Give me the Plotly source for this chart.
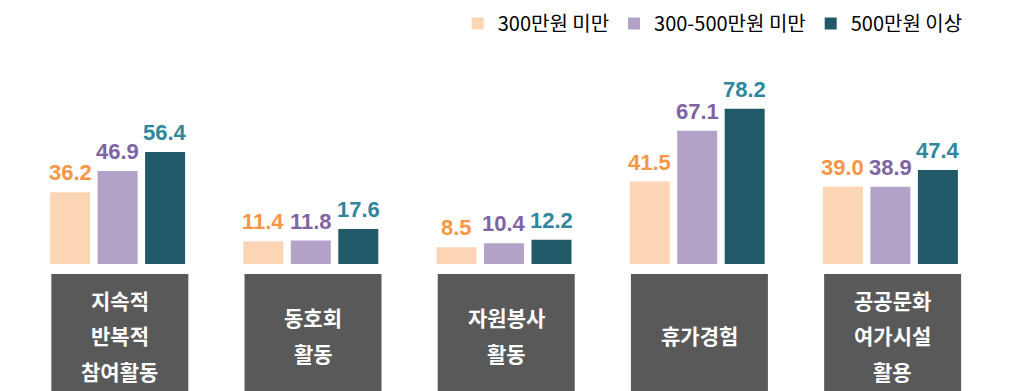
import plotly.graph_objects as go

categories = ["지속적 반복적 참여활동", "동호회 활동", "자원봉사 활동", "휴가경험", "공공문화 여가시설 활용"]
category_lines = [["지속적", "반복적", "참여활동"], ["동호회", "활동"], ["자원봉사", "활동"], ["휴가경험"], ["공공문화", "여가시설", "활용"]]
series_names = ["300만원 미만", "300-500만원 미만", "500만원 이상"]
values_low = [36.2, 11.4, 8.5, 41.5, 39.0]
values_mid = [46.9, 11.8, 10.4, 67.1, 38.9]
values_high = [56.4, 17.6, 12.2, 78.2, 47.4]

bar_colors = ["#FCD5B5", "#B3A2C7", "#215968"]
label_colors = ["#F79646", "#8064A2", "#31859C"]
box_color = "#595959"

W, H = 1010, 391
ML, MR = 21, 23
base_px = 264.0
px_per_unit = 1.985
y_top = base_px / px_per_unit
y_bot = -(H - base_px) / px_per_unit
cat_px = (W - ML - MR) / 5.0
bargap, bargroupgap = 0.2626, 0.158
bar_pitch_px = cat_px * (1 - bargap) / 3.0

def px_to_y(py):
    return (base_px - py) / px_per_unit

fig = go.Figure()
x_idx = list(range(len(categories)))
annotations = []
for s, (name, vals, bc, lc) in enumerate(zip(series_names, [values_low, values_mid, values_high], bar_colors, label_colors)):
    fig.add_trace(go.Bar(
        x=x_idx, y=vals, name=name,
        marker=dict(color=bc, line=dict(width=0)),
        cliponaxis=False,
        hoverinfo="skip",
    ))
    for i, v in zip(x_idx, vals):
        annotations.append(dict(x=i, y=v, xref="x", yref="y", text=f"{v:.1f}",
                                showarrow=False, xanchor="center", yanchor="bottom",
                                xshift=(s - 1) * bar_pitch_px, yshift=5,
                                font=dict(family="Liberation Sans, Arial", size=22, color=lc, weight="bold")))

shapes = []
for i, lines in enumerate(category_lines):
    shapes.append(dict(type="rect", xref="x", yref="y", x0=i - 0.343, x1=i + 0.366,
                       y0=px_to_y(274), y1=px_to_y(H + 20), fillcolor=box_color,
                       line=dict(width=0), layer="above"))
    n = len(lines)
    for k, t in enumerate(lines):
        py = 335 + (k - (n - 1) / 2) * 35.5
        annotations.append(dict(x=i + 0.012, y=px_to_y(py), xref="x", yref="y", text=t,
                                showarrow=False, xanchor="center", yanchor="middle",
                                font=dict(family="Noto Sans CJK KR", size=21, color="white", weight="bold")))

fig.update_layout(
    width=W, height=H,
    margin=dict(l=ML, r=MR, t=0, b=0, pad=0, autoexpand=False),
    paper_bgcolor="white", plot_bgcolor="white",
    barmode="group", bargap=bargap, bargroupgap=bargroupgap,
    xaxis=dict(range=[-0.5, 4.5], showticklabels=False, showgrid=False, zeroline=False,
               showline=False, ticks="", fixedrange=True),
    yaxis=dict(range=[y_bot, y_top], showticklabels=False, showgrid=False, zeroline=False,
               showline=False, ticks="", fixedrange=True),
    showlegend=True,
    legend=dict(orientation="h", xref="paper", yref="paper", x=0.98, xanchor="right",
                y=0.99, yanchor="top",
                font=dict(family="Noto Sans CJK KR", size=20, color="#000000"),
                bgcolor="rgba(0,0,0,0)", itemclick=False, itemdoubleclick=False,
                traceorder="normal"),
    shapes=shapes,
    annotations=annotations,
    font=dict(family="Noto Sans CJK KR"),
)

fig.write_html("out.html", config={"displayModeBar": False},
               post_script="document.body.style.margin='0';document.body.style.overflow='hidden';")
